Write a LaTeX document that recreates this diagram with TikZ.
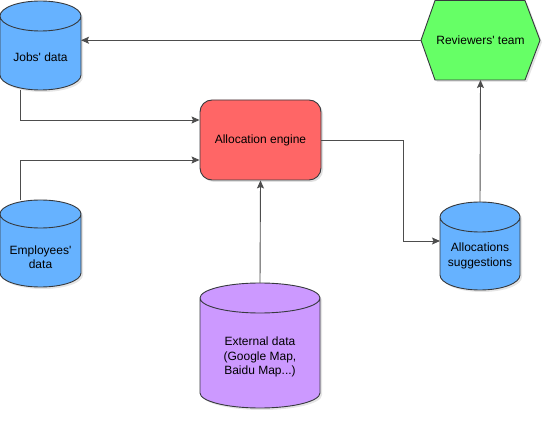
\documentclass[tikz,border=0pt]{standalone}
\usepackage{fontspec}
\setmainfont{Liberation Sans}
\usetikzlibrary{arrows.meta,calc,backgrounds,shadows}
\definecolor{bluef}{HTML}{66B2FF}
\definecolor{redf}{HTML}{FF6666}
\definecolor{greenf}{HTML}{66FF66}
\definecolor{purplef}{HTML}{CC99FF}
\definecolor{strokec}{HTML}{36393D}
\definecolor{edgec}{HTML}{4D4D4D}
\newcommand\cylshape[3]{%
  \fill[black!10] let \p1=(#1.north west), \p2=(#1.south east), \n1={(\x2-\x1)/2} in
    (\x1+2pt,\y1-#2-2pt) -- (\x1+2pt,\y2+#2-2pt)
    arc[start angle=180,end angle=360,x radius=\n1,y radius=#2]
    -- (\x2+2pt,\y1-#2-2pt)
    arc[start angle=0,end angle=180,x radius=\n1,y radius=#2] -- cycle;
  \filldraw[fill=#3, shapeline] let \p1=(#1.north west), \p2=(#1.south east), \n1={(\x2-\x1)/2} in
    (\x1,\y1-#2) -- (\x1,\y2+#2)
    arc[start angle=180,end angle=360,x radius=\n1,y radius=#2]
    -- (\x2,\y1-#2)
    arc[start angle=0,end angle=180,x radius=\n1,y radius=#2] -- cycle
    (\x1,\y1-#2) arc[start angle=180,end angle=360,x radius=\n1,y radius=#2];
}
\tikzset{
  shapeline/.style={draw=strokec, line width=0.9pt},
  holder/.style={inner sep=0pt, outer sep=0pt},
  txt/.style={align=center, text=black, font=\fontsize{12}{14.5}\selectfont, inner sep=0pt},
  conn/.style={draw=edgec, line width=0.9pt, -{Stealth[length=8pt,width=7pt,inset=1.5pt]}},
}
\begin{document}
\begin{tikzpicture}[x=1pt,y=1pt]
\useasboundingbox (0,0) rectangle (552,-422);
% placeholders for custom shapes
\node[holder, minimum width=81, minimum height=89] (jobs) at (40.5,-45.5) {};
\node[holder, minimum width=81, minimum height=87] (emp) at (40.5,-243.5) {};
\node[holder, minimum width=80, minimum height=88] (sugg) at (480,-246) {};
\node[holder, minimum width=120, minimum height=125] (ext) at (260,-345.5) {};
\node[holder, minimum width=119, minimum height=79.5] (rev) at (480.5,-40.25) {};
% engine
\node[txt, draw=strokec, line width=0.9pt, fill=redf, rounded corners=12pt,
      minimum width=121, minimum height=80,
      drop shadow={shadow xshift=2pt, shadow yshift=-2pt, fill=black, opacity=0.12}]
      (engine) at (260.5,-140) {Allocation engine};
\begin{pgfonlayer}{background}
  \cylshape{jobs}{15pt}{bluef}
  \cylshape{emp}{14pt}{bluef}
  \cylshape{sugg}{15pt}{bluef}
  \cylshape{ext}{15pt}{purplef}
  \fill[black!10] ([shift={(2pt,-2pt)}]rev.west) -- ([shift={(16pt,-2pt)}]rev.north west)
     -- ([shift={(-13pt,-2pt)}]rev.north east) -- ([shift={(2pt,-2pt)}]rev.east)
     -- ([shift={(-13pt,-2pt)}]rev.south east) -- ([shift={(16pt,-2pt)}]rev.south west) -- cycle;
  \filldraw[fill=greenf, shapeline] (rev.west) -- ([xshift=14pt]rev.north west)
     -- ([xshift=-15pt]rev.north east) -- (rev.east)
     -- ([xshift=-15pt]rev.south east) -- ([xshift=14pt]rev.south west) -- cycle;
\end{pgfonlayer}
% texts
\node[txt] (jobsT) at (40.5,-57) {Jobs\textquotesingle\ data};
\node[txt] (empT) at (40.5,-257) {Employees\textquotesingle\\data};
\node[txt] (suggT) at (480,-256) {Allocations\\suggestions};
\node[txt] (extT) at (260,-357) {External data\\(Google Map,\\Baidu Map...)};
\node[txt] (revT) at (rev.center) {Reviewers\textquotesingle\ team};
% connectors
\draw[conn] (rev.west) -- (rev.west -| jobs.east);
\draw[conn] ([xshift=-20.5pt]jobs.south) |- ([yshift=20pt]engine.west);
\draw[conn] ([xshift=-20.5pt]emp.north) |- ([yshift=-20pt]engine.west);
\draw[conn] (ext.north) -- (engine.south);
\draw[conn] (engine.east) -- ++(82,0) |- ([yshift=5pt]sugg.west);
\draw[conn] (sugg.north) -- (rev.south);
\end{tikzpicture}
\end{document}
